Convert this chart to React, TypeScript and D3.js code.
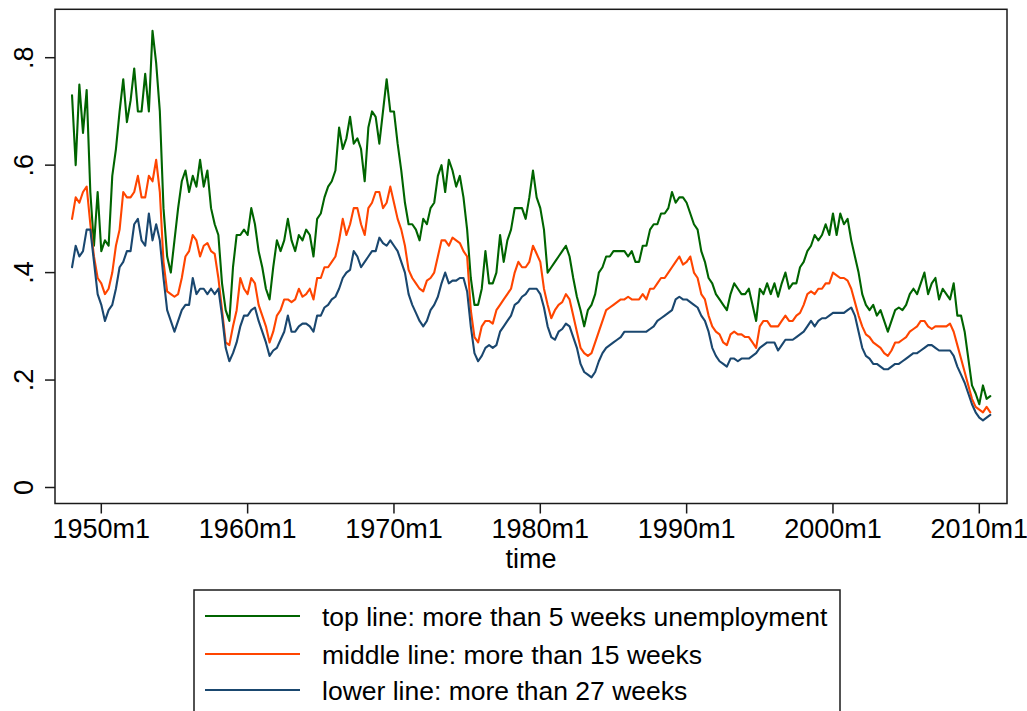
import React from 'react';
import * as d3 from 'd3';

// quarterly readings (first value = 1948m1, step = 3 months)
const startYear = 1948;

const green = [
  0.73, 0.60, 0.75, 0.66, // 1948
  0.74, 0.55, 0.45, 0.55, // 1949
  0.44, 0.46, 0.45, 0.58, // 1950
  0.63, 0.70, 0.76, 0.68, // 1951
  0.72, 0.78, 0.70, 0.70, // 1952
  0.77, 0.70, 0.85, 0.79, // 1953
  0.70, 0.52, 0.43, 0.40, // 1954
  0.46, 0.52, 0.57, 0.59, // 1955
  0.55, 0.58, 0.56, 0.61, // 1956
  0.56, 0.59, 0.52, 0.49, // 1957
  0.47, 0.38, 0.33, 0.31, // 1958
  0.41, 0.47, 0.47, 0.48, // 1959
  0.47, 0.52, 0.49, 0.44, // 1960
  0.41, 0.37, 0.35, 0.41, // 1961
  0.46, 0.44, 0.46, 0.50, // 1962
  0.46, 0.44, 0.47, 0.46, // 1963
  0.48, 0.47, 0.43, 0.50, // 1964
  0.51, 0.54, 0.56, 0.57, // 1965
  0.59, 0.67, 0.63, 0.65, // 1966
  0.69, 0.64, 0.65, 0.63, // 1967
  0.57, 0.67, 0.70, 0.69, // 1968
  0.64, 0.70, 0.76, 0.70, // 1969
  0.70, 0.64, 0.59, 0.53, // 1970
  0.49, 0.49, 0.48, 0.46, // 1971
  0.50, 0.49, 0.52, 0.53, // 1972
  0.58, 0.60, 0.55, 0.61, // 1973
  0.59, 0.56, 0.58, 0.54, // 1974
  0.48, 0.39, 0.34, 0.34, // 1975
  0.37, 0.44, 0.38, 0.38, // 1976
  0.40, 0.47, 0.42, 0.46, // 1977
  0.48, 0.52, 0.52, 0.52, // 1978
  0.50, 0.54, 0.59, 0.54, // 1979
  0.52, 0.48, 0.40, 0.41, // 1980
  0.42, 0.43, 0.44, 0.45, // 1981
  0.43, 0.39, 0.355, 0.33, // 1982
  0.30, 0.33, 0.34, 0.36, // 1983
  0.40, 0.41, 0.43, 0.43, // 1984
  0.44, 0.44, 0.44, 0.44, // 1985
  0.43, 0.44, 0.42, 0.42, // 1986
  0.45, 0.45, 0.48, 0.49, // 1987
  0.49, 0.51, 0.51, 0.52, // 1988
  0.55, 0.53, 0.54, 0.54, // 1989
  0.53, 0.51, 0.49, 0.48, // 1990
  0.44, 0.42, 0.39, 0.38, // 1991
  0.36, 0.35, 0.34, 0.33, // 1992
  0.36, 0.38, 0.37, 0.36, // 1993
  0.36, 0.37, 0.34, 0.31, // 1994
  0.37, 0.36, 0.38, 0.36, // 1995
  0.38, 0.355, 0.38, 0.40, // 1996
  0.37, 0.38, 0.38, 0.41, // 1997
  0.42, 0.44, 0.45, 0.47, // 1998
  0.46, 0.47, 0.49, 0.47, // 1999
  0.51, 0.47, 0.51, 0.49, // 2000
  0.50, 0.46, 0.43, 0.40, // 2001
  0.36, 0.34, 0.33, 0.34, // 2002
  0.32, 0.33, 0.31, 0.29, // 2003
  0.31, 0.33, 0.335, 0.33, // 2004
  0.34, 0.36, 0.37, 0.36, // 2005
  0.38, 0.40, 0.36, 0.38, // 2006
  0.39, 0.35, 0.37, 0.36, // 2007
  0.35, 0.38, 0.32, 0.32, // 2008
  0.29, 0.24, 0.19, 0.175, // 2009
  0.155, 0.19, 0.165, 0.17, // 2010
];

const orange = [
  0.50, 0.54, 0.53, 0.55, // 1948
  0.56, 0.49, 0.43, 0.39, // 1949
  0.38, 0.36, 0.37, 0.40, // 1950
  0.45, 0.48, 0.55, 0.54, // 1951
  0.54, 0.55, 0.58, 0.54, // 1952
  0.54, 0.58, 0.57, 0.61, // 1953
  0.55, 0.42, 0.365, 0.36, // 1954
  0.355, 0.36, 0.39, 0.43, // 1955
  0.44, 0.47, 0.46, 0.43, // 1956
  0.45, 0.455, 0.44, 0.435, // 1957
  0.39, 0.33, 0.27, 0.265, // 1958
  0.30, 0.33, 0.39, 0.37, // 1959
  0.36, 0.39, 0.38, 0.34, // 1960
  0.32, 0.30, 0.27, 0.29, // 1961
  0.32, 0.33, 0.35, 0.35, // 1962
  0.345, 0.35, 0.37, 0.355, // 1963
  0.36, 0.37, 0.35, 0.39, // 1964
  0.39, 0.41, 0.41, 0.42, // 1965
  0.43, 0.46, 0.50, 0.47, // 1966
  0.49, 0.52, 0.52, 0.49, // 1967
  0.47, 0.52, 0.53, 0.55, // 1968
  0.55, 0.52, 0.53, 0.56, // 1969
  0.53, 0.50, 0.48, 0.45, // 1970
  0.405, 0.39, 0.38, 0.37, // 1971
  0.365, 0.385, 0.39, 0.40, // 1972
  0.43, 0.46, 0.46, 0.45, // 1973
  0.465, 0.46, 0.455, 0.44, // 1974
  0.43, 0.33, 0.28, 0.27, // 1975
  0.30, 0.31, 0.31, 0.305, // 1976
  0.33, 0.34, 0.35, 0.36, // 1977
  0.37, 0.40, 0.42, 0.41, // 1978
  0.41, 0.42, 0.45, 0.435, // 1979
  0.42, 0.37, 0.34, 0.315, // 1980
  0.33, 0.34, 0.345, 0.36, // 1981
  0.35, 0.32, 0.29, 0.26, // 1982
  0.25, 0.245, 0.25, 0.27, // 1983
  0.29, 0.31, 0.33, 0.335, // 1984
  0.34, 0.345, 0.35, 0.35, // 1985
  0.355, 0.35, 0.35, 0.35, // 1986
  0.36, 0.35, 0.37, 0.37, // 1987
  0.38, 0.39, 0.39, 0.40, // 1988
  0.41, 0.42, 0.43, 0.415, // 1989
  0.42, 0.43, 0.40, 0.39, // 1990
  0.36, 0.35, 0.32, 0.30, // 1991
  0.29, 0.285, 0.27, 0.265, // 1992
  0.285, 0.29, 0.285, 0.285, // 1993
  0.28, 0.28, 0.27, 0.26, // 1994
  0.30, 0.31, 0.31, 0.30, // 1995
  0.30, 0.30, 0.31, 0.32, // 1996
  0.31, 0.31, 0.32, 0.325, // 1997
  0.34, 0.36, 0.365, 0.36, // 1998
  0.37, 0.37, 0.38, 0.38, // 1999
  0.40, 0.395, 0.39, 0.39, // 2000
  0.385, 0.37, 0.345, 0.32, // 2001
  0.30, 0.285, 0.28, 0.27, // 2002
  0.265, 0.26, 0.25, 0.245, // 2003
  0.255, 0.27, 0.27, 0.275, // 2004
  0.28, 0.29, 0.295, 0.30, // 2005
  0.31, 0.31, 0.30, 0.295, // 2006
  0.30, 0.30, 0.30, 0.30, // 2007
  0.305, 0.29, 0.265, 0.24, // 2008
  0.215, 0.19, 0.165, 0.15, // 2009
  0.145, 0.14, 0.15, 0.14, // 2010
];

const blue = [
  0.41, 0.45, 0.43, 0.44, // 1948
  0.48, 0.48, 0.42, 0.36, // 1949
  0.34, 0.31, 0.33, 0.34, // 1950
  0.37, 0.41, 0.42, 0.44, // 1951
  0.44, 0.49, 0.50, 0.46, // 1952
  0.45, 0.51, 0.46, 0.49, // 1953
  0.46, 0.39, 0.33, 0.31, // 1954
  0.29, 0.31, 0.33, 0.34, // 1955
  0.34, 0.39, 0.36, 0.37, // 1956
  0.37, 0.36, 0.37, 0.36, // 1957
  0.37, 0.32, 0.26, 0.235, // 1958
  0.25, 0.27, 0.30, 0.32, // 1959
  0.32, 0.33, 0.335, 0.31, // 1960
  0.29, 0.27, 0.245, 0.255, // 1961
  0.26, 0.275, 0.29, 0.32, // 1962
  0.29, 0.29, 0.30, 0.305, // 1963
  0.305, 0.30, 0.29, 0.32, // 1964
  0.32, 0.335, 0.34, 0.35, // 1965
  0.355, 0.37, 0.39, 0.40, // 1966
  0.405, 0.44, 0.43, 0.41, // 1967
  0.42, 0.43, 0.44, 0.44, // 1968
  0.465, 0.455, 0.45, 0.46, // 1969
  0.45, 0.44, 0.42, 0.40, // 1970
  0.36, 0.34, 0.325, 0.31, // 1971
  0.30, 0.31, 0.33, 0.34, // 1972
  0.355, 0.38, 0.40, 0.38, // 1973
  0.385, 0.385, 0.39, 0.39, // 1974
  0.365, 0.30, 0.25, 0.235, // 1975
  0.245, 0.26, 0.265, 0.26, // 1976
  0.265, 0.29, 0.30, 0.31, // 1977
  0.32, 0.34, 0.345, 0.355, // 1978
  0.36, 0.37, 0.37, 0.37, // 1979
  0.36, 0.335, 0.30, 0.28, // 1980
  0.275, 0.29, 0.295, 0.305, // 1981
  0.30, 0.28, 0.26, 0.23, // 1982
  0.215, 0.21, 0.205, 0.215, // 1983
  0.235, 0.25, 0.26, 0.265, // 1984
  0.27, 0.275, 0.28, 0.29, // 1985
  0.29, 0.29, 0.29, 0.29, // 1986
  0.29, 0.29, 0.295, 0.30, // 1987
  0.31, 0.315, 0.32, 0.325, // 1988
  0.33, 0.35, 0.355, 0.35, // 1989
  0.35, 0.345, 0.34, 0.335, // 1990
  0.32, 0.31, 0.29, 0.26, // 1991
  0.245, 0.235, 0.23, 0.225, // 1992
  0.24, 0.24, 0.235, 0.24, // 1993
  0.24, 0.24, 0.245, 0.25, // 1994
  0.26, 0.265, 0.27, 0.27, // 1995
  0.27, 0.255, 0.265, 0.275, // 1996
  0.275, 0.275, 0.28, 0.285, // 1997
  0.29, 0.30, 0.31, 0.30, // 1998
  0.31, 0.315, 0.315, 0.32, // 1999
  0.325, 0.325, 0.325, 0.325, // 2000
  0.33, 0.335, 0.32, 0.29, // 2001
  0.26, 0.245, 0.24, 0.23, // 2002
  0.23, 0.225, 0.22, 0.22, // 2003
  0.225, 0.23, 0.23, 0.235, // 2004
  0.24, 0.245, 0.25, 0.25, // 2005
  0.255, 0.26, 0.265, 0.265, // 2006
  0.26, 0.255, 0.255, 0.255, // 2007
  0.255, 0.245, 0.225, 0.21, // 2008
  0.195, 0.175, 0.155, 0.14, // 2009
  0.13, 0.125, 0.13, 0.135, // 2010
];

const seriesLabels = [
  'top line: more than 5 weeks unemployment',
  'middle line: more than 15 weeks',
  'lower line: more than 27 weeks',
];
const seriesColors = ['#006400', '#ff4500', '#1a476f'];

const xTickYears = [1950, 1960, 1970, 1980, 1990, 2000, 2010];
const yTickValues = [0, 0.2, 0.4, 0.6, 0.8];
const yTickLabels = ['0', '.2', '.4', '.6', '.8'];
const xTitle = 'time';

const FONT = '"Liberation Sans", Arial, Helvetica, sans-serif';

export default function App() {
  const W = 1027;
  const H = 711;
  const frame = { left: 55, right: 1007, top: 9.3, bottom: 503.5 };

  const x = d3.scaleLinear().domain([1950, 2010]).range([101.3, 979.3]);
  const y = d3.scaleLinear().domain([0, 0.8]).range([487.5, 57.7]);

  const lineGen = d3
    .line<number>()
    .x((_, i) => x(startYear + i / 4))
    .y((d) => y(d));

  const series = [green, orange, blue];
  const axisColor = '#1a1a1a';
  const fs = 27;
  const legendFs = 26.5;

  const legend = { x: 194, y: 590, w: 646, h: 150, lineX1: 205, lineX2: 300, textX: 322, rows: [616, 654, 690] };

  return (
    <svg
      width={W}
      height={H}
      viewBox={`0 0 ${W} ${H}`}
      style={{ position: 'absolute', left: 0, top: 0, background: '#fff' }}
      fontFamily={FONT}
    >
      <rect x={0} y={0} width={W} height={H} fill="#fff" />
      {/* series */}
      <g fill="none" strokeWidth={2.1} strokeLinejoin="round" strokeLinecap="round">
        {series.map((s, k) => (
          <path key={k} d={lineGen(s) || ''} stroke={seriesColors[k]} />
        ))}
      </g>
      {/* frame */}
      <rect
        x={frame.left}
        y={frame.top}
        width={frame.right - frame.left}
        height={frame.bottom - frame.top}
        fill="none"
        stroke={axisColor}
        strokeWidth={1.5}
      />
      {/* y axis ticks */}
      {yTickValues.map((v, i) => (
        <g key={'y' + i}>
          <line x1={frame.left - 10} x2={frame.left} y1={y(v)} y2={y(v)} stroke={axisColor} strokeWidth={1.5} />
          <text
            transform={`translate(33, ${y(v)}) rotate(-90)`}
            textAnchor="middle"
            fontSize={fs}
            fill="#000"
          >
            {yTickLabels[i]}
          </text>
        </g>
      ))}
      {/* x axis ticks */}
      {xTickYears.map((yr) => (
        <g key={'x' + yr}>
          <line x1={x(yr)} x2={x(yr)} y1={frame.bottom} y2={frame.bottom + 10} stroke={axisColor} strokeWidth={1.5} />
          <text x={x(yr)} y={538} textAnchor="middle" fontSize={fs} fill="#000">
            {`${yr}m1`}
          </text>
        </g>
      ))}
      <text x={(frame.left + frame.right) / 2} y={568} textAnchor="middle" fontSize={fs} fill="#000">
        {xTitle}
      </text>
      {/* legend */}
      <rect x={legend.x} y={legend.y} width={legend.w} height={legend.h} fill="#fff" stroke={axisColor} strokeWidth={1.5} />
      {seriesLabels.map((lab, k) => (
        <g key={'l' + k}>
          <line
            x1={legend.lineX1}
            x2={legend.lineX2}
            y1={legend.rows[k]}
            y2={legend.rows[k]}
            stroke={seriesColors[k]}
            strokeWidth={2}
          />
          <text x={legend.textX} y={legend.rows[k] + 9.5} fontSize={legendFs} fill="#000">
            {lab}
          </text>
        </g>
      ))}
    </svg>
  );
}
